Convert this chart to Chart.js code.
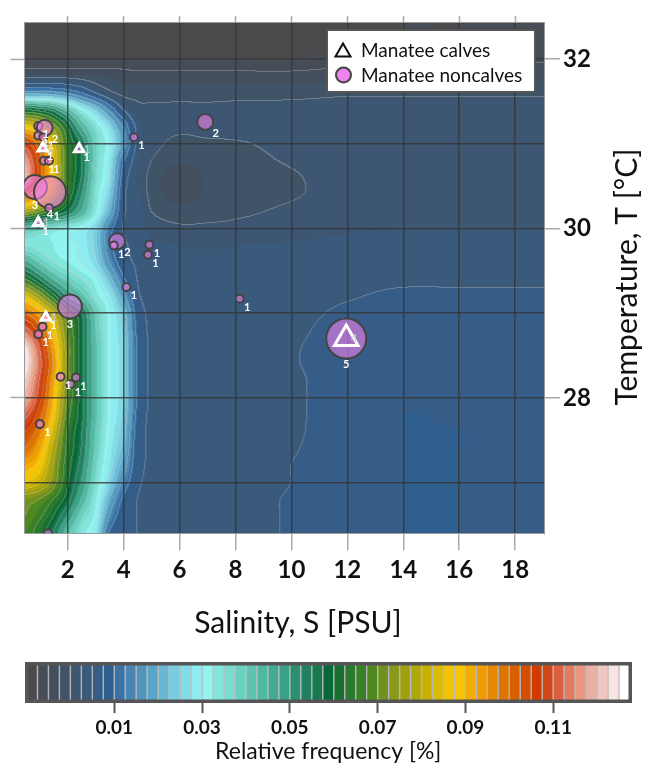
<!DOCTYPE html>
<html>
<head>
<meta charset="utf-8">
<script src="https://cdn.jsdelivr.net/npm/chart.js@4.4.1/dist/chart.umd.min.js"></script>
<style>
  html, body { margin: 0; padding: 0; background: #fff; }
  #wrap { position: relative; width: 658px; height: 771px; }
  #main { position: absolute; left: 0; top: 0; }
  #bar { position: absolute; left: 0; top: 650px; }
</style>
</head>
<body>
<div id="wrap">
  <canvas id="main" width="658" height="650"></canvas>
  <canvas id="bar" width="658" height="121"></canvas>
</div>
<script>
const FONT = 'Lato, "Open Sans", sans-serif';

// density grid: salinity columns, temperature rows (top to bottom)
const SAL_COLS = [0.45, 1, 1.5, 2, 2.5, 3, 3.5, 4, 4.5, 5, 6, 7, 8, 10, 12, 14, 16, 19.05];
const TEMP_ROWS = [32.4, 32.2, 32.0, 31.8, 31.6, 31.4, 31.2, 31.0, 30.8, 30.6, 30.4, 30.2, 30.0,
  29.8, 29.6, 29.4, 29.2, 29.0, 28.8, 28.6, 28.4, 28.2, 28.0, 27.8, 27.6, 27.4, 27.2, 27.0, 26.8, 26.6, 26.4];
// relative frequency in units of 0.001 %
const FREQ = [
  [-10, -10, -10, -10, -10, -10, -10, -10, -10, -10, -10, -10, -10, -10, -8.75, -7.5, -7.5, -6.25],
  [-10, -10, -10, -10, -10, -10, -10, -10, -10, -10, -10, -10, -10, -8.75, -8.75, -7.5, -7.5, -6.25],
  [-7.5, -7.5, -7.5, -7.5, -7.5, -7.5, -7.5, -7.5, -7.5, -7.5, -7.5, -7.5, -7.5, -7.5, -6.25, -6.25, -5.5, -5.5],
  [-1.25, -1.25, -1.25, -1.5, -2, -2.5, -3, -3.5, -4, -4, -4, -4, -4, -4, -3.5, -3.5, -3.5, -3],
  [17.5, 17.5, 16.25, 14, 10, 5, 1, -1, -1, -1, -1, -1, -1, -1, -0.5, -0.5, -0.5, -0.5],
  [60, 57.5, 52.5, 42.5, 32, 24, 14, 5, 1, 0.5, 0.5, 0.5, 0.75, 1, 1.25, 1.25, 1.25, 1.25],
  [87.5, 82.5, 72.5, 60, 45, 35, 26, 14, 4, 1.25, 0.5, 1, 1.25, 1.25, 1.25, 1.25, 1.25, 1.25],
  [107.5, 97.5, 82.5, 65, 55, 38, 30, 17, 4, 1, -0.75, -0.5, -0.25, 0.75, 1.25, 1.25, 1.25, 1.25],
  [117.5, 102.5, 85, 66, 56, 38, 28, 11, 3, 0, -2.25, -1.5, -0.75, 0.25, 1.25, 1.25, 1.25, 1.25],
  [120, 102.5, 85, 66, 55, 37, 27, 8, 2.5, -1, -4.5, -2, -1, -0.25, 1, 1.25, 1.25, 1.25],
  [102.5, 92.5, 80, 65, 51, 35, 24, 6.5, 3, -1, -4, -2, -1, -0.25, 1, 1.25, 1.25, 1.25],
  [77.5, 70, 62.5, 55, 45, 33, 20, 6, 4, 0, -1.5, -1, -0.5, 0.5, 1.5, 1.75, 1.75, 1.75],
  [42.5, 39, 35, 32.5, 30, 25, 12.5, 5, 3.5, 1.5, 0.5, 0.5, 0.75, 1.5, 2.25, 2.5, 2.5, 2.5],
  [35, 34, 32.5, 31, 29, 24, 12, 6, 4, 3, 2.5, 2.25, 2.5, 2.75, 3, 3, 3, 3],
  [47.5, 40, 35, 32.5, 30, 26, 15, 7, 4.5, 3.5, 3, 2.75, 3, 3.25, 3.5, 3.75, 3.75, 3.75],
  [65, 55, 45, 39, 35, 31, 22, 11, 5, 4, 3.5, 3.25, 3.5, 3.75, 4.25, 4.5, 4.5, 4.5],
  [85, 75, 62, 50, 42.5, 34, 28, 17, 6, 4.25, 3.75, 3.5, 3.75, 4, 4.75, 5.5, 5.5, 5.5],
  [100, 92.5, 80, 66, 56, 40, 31, 22.5, 8, 4.25, 4, 3.75, 4, 4.25, 5.5, 6.25, 6.25, 6.25],
  [112.5, 102.5, 87.5, 70, 57.5, 41, 31, 24, 9, 4.25, 4, 3.75, 4, 4.5, 6, 6.75, 6.75, 6.5],
  [124, 110, 92.5, 72.5, 57.5, 42.5, 31, 25, 10, 4.25, 4, 3.75, 4, 4.75, 6.25, 7, 7, 6.75],
  [125, 112.5, 95, 72.5, 57.5, 42.5, 31, 25, 10, 4.25, 4, 3.75, 4, 4.75, 6.5, 7, 7, 7],
  [122.5, 110, 92.5, 72.5, 57.5, 42.5, 31, 25, 10, 4.25, 4, 3.75, 4, 4.5, 6.5, 7.25, 7, 7],
  [119, 107.5, 90, 70, 57.5, 42.5, 31, 25, 10, 4.25, 3.75, 3.5, 3.75, 4.5, 6.5, 7.25, 7.25, 7],
  [112.5, 102.5, 87.5, 67.5, 57.5, 42.5, 31, 24, 9, 4.25, 3.75, 3.5, 3.75, 4.5, 6.5, 7.5, 7.25, 7],
  [105, 97.5, 82.5, 65, 56, 41, 30, 22.5, 8, 4.25, 3.75, 3.5, 3.75, 4.5, 6.75, 7.5, 7.5, 7],
  [100, 92.5, 78, 64, 55, 40, 29, 21, 7.5, 4.5, 4, 3.75, 4, 4.75, 6.75, 7.5, 7.5, 7.25],
  [92.5, 87.5, 75, 62.5, 53, 38, 27.5, 18, 7, 4.5, 4, 3.75, 4, 5, 7, 7.5, 7.5, 7.25],
  [85, 81, 72.5, 61, 50, 36, 25, 14, 6, 4.5, 4, 3.75, 4, 5, 7, 7.5, 7.5, 7.25],
  [72.5, 70, 65, 57.5, 45, 33, 20, 9, 5, 4.5, 4.25, 4, 4.25, 5.25, 7, 7.5, 7.5, 7.25],
  [70, 66, 60, 50, 38, 31, 15, 7, 5, 4.5, 4.25, 4, 4.25, 5.25, 7, 7.5, 7.5, 7.25],
  [67.5, 62.5, 55, 42.5, 34, 28, 10, 6, 5, 4.5, 4.25, 4, 4.25, 5.25, 7, 7.5, 7.5, 7.25]
];

// colour levels of the legend bar
const LEVEL_MIN = -0.01;
const LEVEL_STEP = 0.0025;
const LEVEL_COLORS = [
  '#4b4b4d', '#464d56', '#434f5f', '#405468', '#3d5772', '#3a5a7c', '#355d87', '#2f5f8e',
  '#3a72a5', '#4a84b2', '#5094bc', '#58a5c8', '#68b8d4', '#78cce0', '#82dce8', '#8eecf0',
  '#92f4f0', '#82e6dc', '#78dcd0', '#6ad0c0', '#5cc4b0', '#50b8a0', '#44aa90', '#3aa088',
  '#2a9070', '#208060', '#187850', '#086838', '#187030', '#2a7a2e', '#3a8028', '#508820',
  '#709020', '#889818', '#a0a010', '#b0a808', '#c8b000', '#dcba00', '#f0c400', '#f8c400',
  '#f4ac00', '#f09c00', '#e88800', '#e07400', '#d86000', '#d45000', '#d03c00', '#d04818',
  '#dc6040', '#e07c60', '#e89880', '#ecb0a0', '#f0c8c0', '#f8e4e0', '#ffffff'
];
const CB_TICKS = [0.01, 0.03, 0.05, 0.07, 0.09, 0.11];

const X_TICKS = [2, 4, 6, 8, 10, 12, 14, 16, 18];
const Y_GRID = [27, 28, 29, 30, 31, 32];
const Y_LABELS = [28, 30, 32];

// sightings
const NONCALF_S = [0.95, 1.18, 0.95, 1.13, 1.11, 2.41, 1.15, 1.33, 0.83, 1.37, 1.34, 0.95, 4.37, 6.92, 3.77,
  3.65, 4.92, 4.87, 4.10, 8.15, 2.08, 1.22, 1.10, 0.95, 1.75, 2.30, 2.10, 1.01, 1.30, 11.96];
const NONCALF_T = [31.21, 31.19, 31.10, 31.08, 30.95, 30.94, 30.80, 30.80, 30.49, 30.43, 30.24, 30.07, 31.08, 31.26, 29.85,
  29.80, 29.81, 29.69, 29.31, 29.17, 29.08, 28.95, 28.84, 28.75, 28.25, 28.24, 28.16, 27.69, 26.40, 28.70];
const NONCALF_N = [1, 2, 1, 1, 1, 1, 1, 1, 3, 4, 1, 1, 1, 2, 2,
  1, 1, 1, 1, 1, 3, 1, 1, 1, 1, 1, 1, 1, 1, 5];
const CALF_S = [1.11, 2.41, 0.95, 1.22, 11.96];
const CALF_T = [30.95, 30.94, 30.07, 28.95, 28.70];
const CALF_N = [1, 1, 1, 1, 4];

const circleRadius = n => 4 * n;
const triangleRadius = n => 2.7 * n + 2.8;

function colPos(s) {
  if (s <= SAL_COLS[0]) return 0;
  for (let k = 0; k < SAL_COLS.length - 1; k++) {
    if (s <= SAL_COLS[k + 1]) return k + (s - SAL_COLS[k]) / (SAL_COLS[k + 1] - SAL_COLS[k]);
  }
  return SAL_COLS.length - 1;
}
function rowPos(t) {
  const r = (TEMP_ROWS[0] - t) / (TEMP_ROWS[0] - TEMP_ROWS[1]);
  return Math.max(0, Math.min(TEMP_ROWS.length - 1, r));
}
const cr = (p0, p1, p2, p3, t) =>
  p1 + 0.5 * t * (p2 - p0 + t * (2 * p0 - 5 * p1 + 4 * p2 - p3 + t * (3 * (p1 - p2) + p3 - p0)));
function sample(c, r) {
  const nc = SAL_COLS.length, nr = TEMP_ROWS.length;
  const i = Math.min(Math.floor(c), nc - 2), j = Math.min(Math.floor(r), nr - 2);
  const tc = c - i, tr = r - j;
  const cl = k => Math.max(0, Math.min(nc - 1, k));
  const rl = k => Math.max(0, Math.min(nr - 1, k));
  const v = [];
  for (let m = -1; m <= 2; m++) {
    const row = FREQ[rl(j + m)];
    v.push(cr(row[cl(i - 1)], row[cl(i)], row[cl(i + 1)], row[cl(i + 2)], tc));
  }
  return cr(v[0], v[1], v[2], v[3], tr);
}
const hexRgb = h => [1, 3, 5].map(k => parseInt(h.slice(k, k + 2), 16));

let heatCanvas = null;
const heatmap = {
  id: 'heatmap',
  beforeDraw(chart) {
    const { ctx, chartArea: a, scales } = chart;
    if (!heatCanvas) {
      const w = Math.ceil(a.right - a.left), h = Math.ceil(a.bottom - a.top);
      heatCanvas = document.createElement('canvas');
      heatCanvas.width = w; heatCanvas.height = h;
      const hctx = heatCanvas.getContext('2d');
      const img = hctx.createImageData(w, h);
      const lev = new Int16Array(w * h);
      const cols = [];
      for (let i = 0; i < w; i++) cols.push(colPos(scales.x.getValueForPixel(a.left + i + 0.5)));
      for (let j = 0; j < h; j++) {
        const r = rowPos(scales.y.getValueForPixel(a.top + j + 0.5));
        for (let i = 0; i < w; i++) {
          const v = sample(cols[i], r) / 1000;
          const L = Math.floor((v - LEVEL_MIN) / LEVEL_STEP + 1e-9);
          lev[j * w + i] = Math.max(0, Math.min(LEVEL_COLORS.length - 1, L));
        }
      }
      const rgb = LEVEL_COLORS.map(hexRgb);
      // thin light contour at every second level
      const band = L => Math.floor(L / 2);
      for (let j = 0; j < h; j++) {
        for (let i = 0; i < w; i++) {
          const k = j * w + i, L = lev[k];
          let [r, g, b] = rgb[L];
          const edge = (i < w - 1 && band(lev[k + 1]) !== band(L)) || (j < h - 1 && band(lev[k + w]) !== band(L));
          if (edge) {
            r = r * 0.66 + 205 * 0.34; g = g * 0.66 + 205 * 0.34; b = b * 0.66 + 205 * 0.34;
          }
          img.data[k * 4] = r; img.data[k * 4 + 1] = g; img.data[k * 4 + 2] = b; img.data[k * 4 + 3] = 255;
        }
      }
      hctx.putImageData(img, 0, 0);
    }
    ctx.drawImage(heatCanvas, a.left, a.top);
  }
};

const decorations = {
  id: 'decorations',
  afterDatasetsDraw(chart) {
    const ctx = chart.ctx;
    ctx.save();
    ctx.font = `bold 11px ${FONT}`;
    ctx.textAlign = 'center';
    ctx.textBaseline = 'middle';
    chart.getDatasetMeta(1).data.forEach((pt, i) => {
      const n = NONCALF_N[i], r = circleRadius(n) + 1;
      const dx = n >= 3 ? 0 : r * 0.7 + 4;
      const dy = n >= 3 ? r + 5 : r * 0.7 + 5;
      ctx.fillStyle = '#ffffff';
      ctx.fillText(String(n), pt.x + dx, pt.y + dy);
    });
    chart.getDatasetMeta(0).data.forEach((pt, i) => {
      ctx.fillStyle = 'rgba(205,205,205,0.85)';
      ctx.fillText(String(CALF_N[i]), pt.x + 8, pt.y);
    });
    ctx.restore();
  },
  afterDraw(chart) {
    const ctx = chart.ctx;
    const ds = chart.data.datasets;
    ctx.save();
    // legend
    ctx.fillStyle = '#ffffff';
    ctx.fillRect(327, 30, 208, 62);
    ctx.strokeStyle = '#555555';
    ctx.lineWidth = 2;
    ctx.strokeRect(327, 30, 208, 62);
    ctx.beginPath();
    ctx.moveTo(343, 43.5); ctx.lineTo(350.5, 56.5); ctx.lineTo(335.5, 56.5); ctx.closePath();
    ctx.strokeStyle = '#111111'; ctx.lineWidth = 2; ctx.stroke();
    ctx.beginPath();
    ctx.arc(343.5, 75, 7.5, 0, Math.PI * 2);
    ctx.fillStyle = '#ee82ee'; ctx.fill();
    ctx.strokeStyle = '#444444'; ctx.lineWidth = 2; ctx.stroke();
    ctx.fillStyle = '#111111';
    ctx.font = `19px ${FONT}`;
    ctx.textAlign = 'left';
    ctx.textBaseline = 'middle';
    ctx.fillText(ds[0].label, 361, 51);
    ctx.fillText(ds[1].label, 361, 76);
    // axis titles
    ctx.font = `30px ${FONT}`;
    ctx.textAlign = 'center';
    ctx.textBaseline = 'alphabetic';
    ctx.fillText('Salinity, S [PSU]', 298, 633);
    ctx.translate(637, 277);
    ctx.rotate(-Math.PI / 2);
    ctx.fillText('Temperature, T [°C]', 0, 0);
    ctx.restore();
  }
};

const X_MIN = 0.45, X_MAX = 19.03, Y_MIN = 26.4, Y_MAX = 32.44;
const GRID = 'rgba(52,52,52,0.8)';
const TICK_FONT = { family: FONT, size: 24, weight: 'bold' };

new Chart(document.getElementById('main'), {
  type: 'scatter',
  data: {
    datasets: [
      {
        label: 'Manatee calves',
        data: CALF_S.map((s, i) => ({ x: s, y: CALF_T[i], n: CALF_N[i] })),
        pointStyle: 'triangle',
        pointRadius: c => triangleRadius(c.raw.n),
        backgroundColor: 'rgba(0,0,0,0)',
        borderColor: '#ffffff',
        borderWidth: 3,
        order: 1
      },
      {
        label: 'Manatee noncalves',
        data: NONCALF_S.map((s, i) => ({ x: s, y: NONCALF_T[i], n: NONCALF_N[i] })),
        pointRadius: c => circleRadius(c.raw.n),
        backgroundColor: 'rgba(238,130,238,0.6)',
        borderColor: '#444444',
        borderWidth: 2,
        order: 2
      }
    ]
  },
  options: {
    responsive: false,
    animation: false,
    events: [],
    layout: { padding: 0 },
    plugins: { legend: { display: false }, tooltip: { enabled: false } },
    scales: {
      x: {
        type: 'linear', position: 'bottom', min: X_MIN, max: X_MAX,
        afterBuildTicks: s => { s.ticks = X_TICKS.map(v => ({ value: v })); },
        afterFit: s => { s.height = 116.7; },
        grid: { color: GRID, lineWidth: 1.5, tickColor: '#aaaaaa', tickLength: 17, tickWidth: 1.5 },
        border: { display: true, color: '#9a9a9a', width: 1 },
        ticks: { font: TICK_FONT, color: '#111111', padding: 6, maxRotation: 0, autoSkip: false, callback: v => String(v) }
      },
      y: {
        type: 'linear', position: 'right', min: Y_MIN, max: Y_MAX,
        afterBuildTicks: s => { s.ticks = Y_GRID.map(v => ({ value: v })); },
        afterFit: s => { s.width = 114; },
        grid: {
          color: GRID, lineWidth: 1.5, tickLength: 16, tickWidth: 1.5,
          tickColor: c => (c.tick && Y_LABELS.includes(c.tick.value)) ? '#aaaaaa' : 'rgba(0,0,0,0)'
        },
        border: { display: true, color: '#9a9a9a', width: 1 },
        ticks: { font: TICK_FONT, color: '#111111', padding: 3, autoSkip: false,
          callback: v => Y_LABELS.includes(v) ? String(v) : '' }
      },
      xTop: {
        type: 'linear', position: 'top', min: X_MIN, max: X_MAX,
        afterBuildTicks: s => { s.ticks = X_TICKS.map(v => ({ value: v })); },
        afterFit: s => { s.height = 21; },
        grid: { drawOnChartArea: false, tickColor: '#aaaaaa', tickLength: 6, tickWidth: 1.5 },
        border: { display: true, color: '#9a9a9a', width: 1 },
        ticks: { display: false }
      },
      yLeft: {
        type: 'linear', position: 'left', min: Y_MIN, max: Y_MAX,
        afterBuildTicks: s => { s.ticks = Y_LABELS.map(v => ({ value: v })); },
        afterFit: s => { s.width = 24.3; },
        grid: { drawOnChartArea: false, tickColor: '#aaaaaa', tickLength: 14, tickWidth: 1.5 },
        border: { display: true, color: '#9a9a9a', width: 1 },
        ticks: { display: false }
      }
    }
  },
  plugins: [heatmap, decorations]
});

// colour bar
const frame = {
  id: 'frame',
  afterDraw(chart) {
    const ctx = chart.ctx;
    ctx.save();
    ctx.strokeStyle = '#555555';
    ctx.lineWidth = 3.5;
    ctx.strokeRect(26.75, 13.75, 603.5, 37.5);
    ctx.restore();
  }
};

new Chart(document.getElementById('bar'), {
  type: 'bar',
  data: {
    labels: ['freq'],
    datasets: LEVEL_COLORS.map((c, i) => ({
      data: [[LEVEL_MIN + i * LEVEL_STEP, LEVEL_MIN + (i + 1) * LEVEL_STEP]],
      backgroundColor: c,
      borderColor: 'rgba(60,60,60,0.3)',
      borderWidth: 1,
      borderSkipped: false,
      grouped: false,
      barPercentage: 1,
      categoryPercentage: 1
    }))
  },
  options: {
    indexAxis: 'y',
    responsive: false,
    animation: false,
    events: [],
    layout: { padding: { left: 26.5, right: 28, top: 12, bottom: 0 } },
    plugins: { legend: { display: false }, tooltip: { enabled: false } },
    scales: {
      x: {
        type: 'linear', min: LEVEL_MIN, max: LEVEL_MIN + LEVEL_COLORS.length * LEVEL_STEP,
        afterBuildTicks: s => { s.ticks = CB_TICKS.map(v => ({ value: v })); },
        afterFit: s => { s.height = 68; },
        grid: { drawOnChartArea: false, tickLength: 10, tickColor: '#555555', tickWidth: 2 },
        border: { display: false },
        ticks: { font: { family: FONT, size: 19, weight: 'bold' }, color: '#111111', padding: 3,
          maxRotation: 0, autoSkip: false, callback: v => v.toFixed(2) },
        title: { display: true, text: 'Relative frequency [%]', font: { family: FONT, size: 23 },
          color: '#111111', padding: { top: 0, bottom: 6 } }
      },
      y: { display: false }
    }
  },
  plugins: [frame]
});
</script>
</body>
</html>
